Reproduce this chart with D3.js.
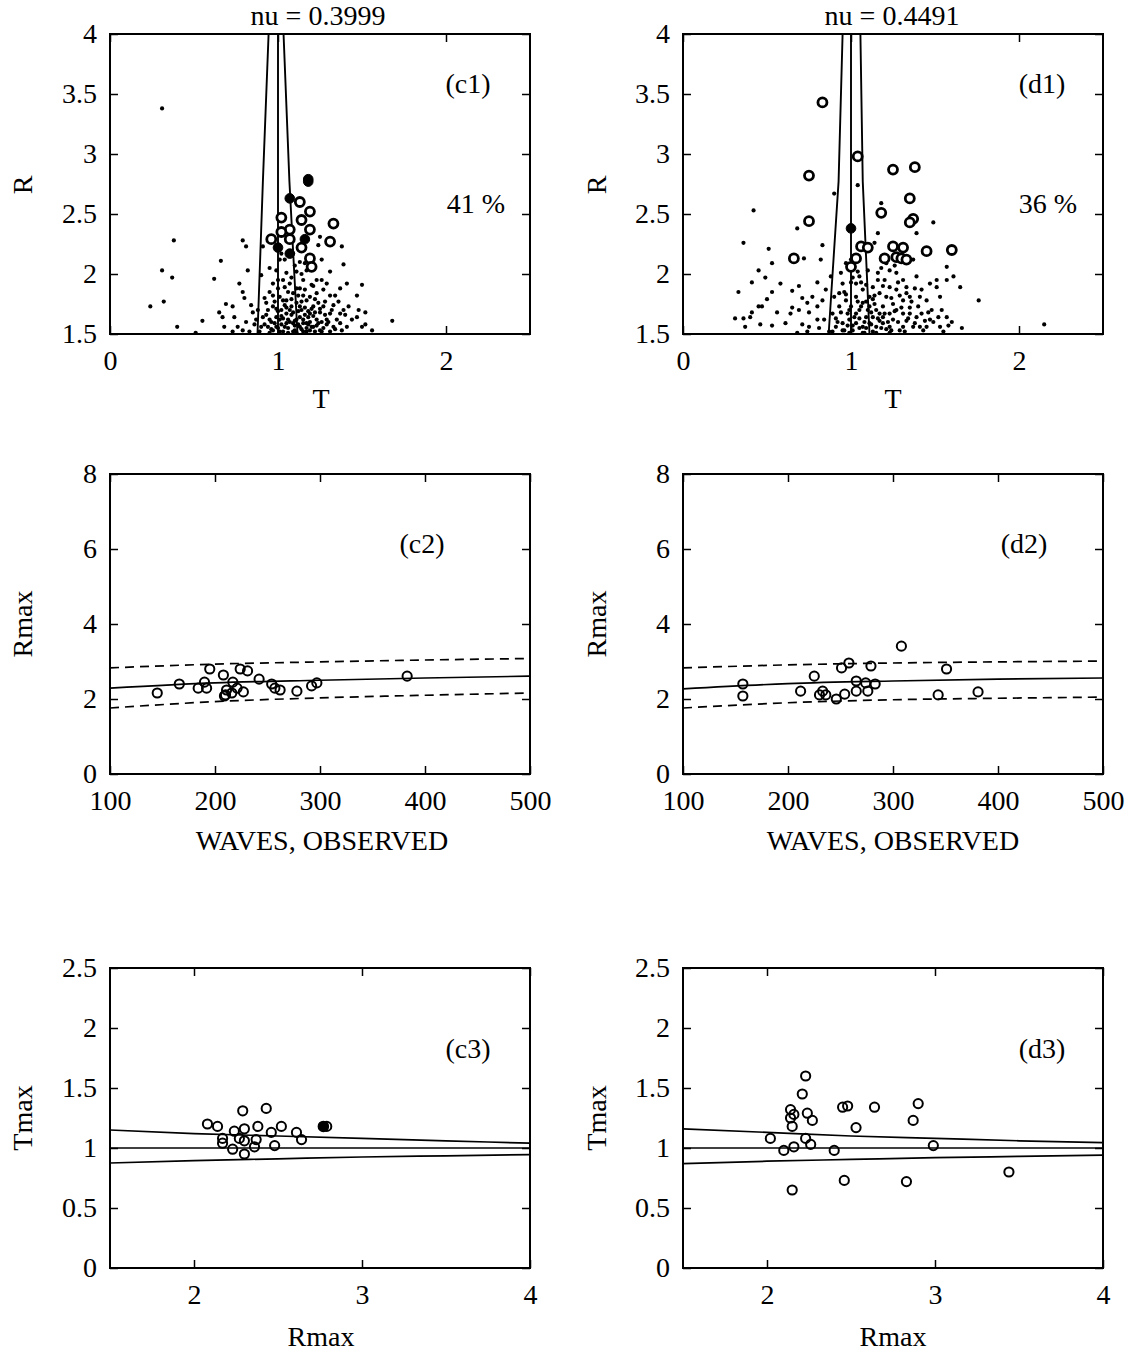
<!DOCTYPE html>
<html>
<head>
<meta charset="utf-8">
<script src="https://cdn.jsdelivr.net/npm/d3@7"></script>
<style>
body { margin: 0; background: #fff; }
</style>
</head>
<body>
<script>
(function () {
    'use strict';

    // ---- row 1: R against T, small dots + freak-wave circles ----
    var c1Dots = [
        [0.31,3.38],[0.38,2.28],[0.31,2.03],[0.37,1.97],[0.24,1.73],[0.32,1.77],[0.40,1.56],[0.51,1.51],
        [0.55,1.61],[0.62,1.96],[0.66,2.11],[0.79,2.28],[0.81,2.23],[0.82,2.03],[0.77,1.92],[0.79,1.85],
        [0.80,1.80],[0.65,1.68],[0.67,1.64],[0.69,1.75],[0.73,1.73],[0.68,1.56],[0.74,1.64],[0.76,1.56],
        [0.81,1.60],[0.84,1.74],[0.85,1.68],[1.68,1.61],[1.50,1.91],[1.47,1.82],[1.48,1.70],[1.52,1.68],
        [1.52,1.58],[1.56,1.53],[1.47,1.64],[1.41,1.92],[1.39,2.08],[1.38,2.23],[1.31,2.02],[1.26,2.12],
        [1.25,2.31],[1.24,2.24],[1.37,1.88],[1.34,1.82],[1.31,1.82],[1.42,1.73],[1.44,1.62],[1.41,1.56],
        [1.50,1.56],[1.23,1.95],[1.21,1.90],[1.15,1.95],[1.11,2.02],[1.13,2.10],[1.04,2.12],[1.03,1.95],
        [0.97,1.92],[0.95,1.85],[0.90,1.99],[0.91,2.23],[0.93,1.76],[0.87,1.62],[0.90,1.56],[0.97,1.73],
        [0.99,1.64],[1.01,1.81],[1.05,1.78],[1.07,1.70],[1.09,1.84],[1.13,1.73],[1.17,1.78],[1.19,1.67],
        [1.23,1.62],[1.27,1.73],[1.29,1.62],[1.33,1.56],[1.37,1.67],[1.05,1.59],[1.13,1.56],[1.21,1.56],
        [1.25,1.53],[0.97,1.53],[1.03,1.52],[1.09,1.52],[1.17,1.52],[1.31,1.52],[0.83,1.52],[0.73,1.52],
        [0.79,1.53],[1.05,1.67],[1.01,1.62],[0.95,1.62],[0.94,1.56],[1.11,1.62],[1.15,1.62],[1.17,1.59],
        [1.09,1.59],[0.99,1.56],[1.02,1.70],[1.04,1.89],[1.07,1.92],[1.13,1.88],[1.15,1.82],[1.19,1.81],
        [1.23,1.84],[1.27,1.87],[1.21,1.73],[1.25,1.68],[1.31,1.67],[1.33,1.74],[1.29,1.58],[1.37,1.59],
        [1.05,2.01],[0.99,2.03],[1.01,2.12],[1.02,2.17],[1.09,2.17],[1.17,2.03],[1.16,2.09],
        [0.92,1.58],[0.96,1.60],[1.00,1.55],[1.03,1.63],[1.06,1.55],[1.08,1.66],[1.10,1.57],[1.12,1.69],
        [1.14,1.54],[1.16,1.66],[1.18,1.58],[1.20,1.71],[1.22,1.52],[1.24,1.76],[1.26,1.60],[1.28,1.66],
        [1.00,1.69],[0.98,1.77],[1.04,1.74],[1.08,1.79],[1.11,1.76],[1.14,1.70],[1.18,1.64],[1.22,1.68],
        [0.93,1.66],[0.96,1.54],[1.02,1.58],[1.06,1.62],[1.10,1.53],[1.15,1.59],[1.19,1.53],[1.23,1.57],
        [1.27,1.55],[1.35,1.62],[1.39,1.70],[0.88,1.70],[0.86,1.58],[1.06,1.85],[1.11,1.88],[1.00,1.88],
        [0.89,1.52],[0.91,1.64],[0.94,1.70],[0.95,1.51],[0.98,1.59],[0.99,1.71],[1.01,1.52],[1.02,1.65],
        [1.03,1.78],[1.04,1.56],[1.05,1.72],[1.06,1.51],[1.07,1.60],[1.08,1.73],[1.09,1.68],[1.10,1.61],
        [1.11,1.51],[1.12,1.58],[1.13,1.64],[1.14,1.77],[1.15,1.52],[1.16,1.72],[1.17,1.55],[1.18,1.69],
        [1.19,1.60],[1.20,1.56],[1.21,1.65],[1.22,1.79],[1.24,1.59],[1.25,1.71],[1.26,1.52],[1.28,1.77],
        [1.30,1.60],[1.32,1.70],[1.34,1.54],[1.36,1.77],[1.38,1.53],[1.40,1.66],[0.97,1.82],[1.00,1.95],
        [1.08,1.97],[1.12,1.82],[1.16,1.87],[1.20,1.91],[1.26,1.95],[1.10,2.07],[1.14,2.00],[1.29,1.92],
        [0.92,1.80],[0.95,2.05]
    ];
    var c1Circles = [
        [1.13,2.60],[1.19,2.52],[1.02,2.47],[1.14,2.45],[1.33,2.42],[1.07,2.37],[1.02,2.35],
        [1.19,2.37],[0.96,2.29],[1.07,2.29],[1.31,2.27],[1.14,2.22],[1.19,2.13],[1.20,2.06]
    ];
    var c1Filled = [[1.18,2.77],[1.18,2.79],[1.07,2.63],[1.16,2.29],[1.00,2.22],[1.07,2.17]];
    var c1LeftLine = [[0.878,1.5],[0.91,2.77],[0.944,4]];
    var c1MidLine = [[1,1.5],[1,4]];
    var c1RightLine = [[1.116,1.5],[1.068,2.77],[1.033,4]];

    var d1Dots = [
        [0.42,2.53],[0.36,2.26],[0.51,2.21],[0.53,2.09],[0.45,2.03],[0.49,1.97],[0.41,1.93],[0.33,1.85],
        [0.31,1.63],[0.36,1.63],[0.40,1.64],[0.41,1.68],[0.45,1.73],[0.47,1.73],[0.50,1.79],[0.53,1.85],
        [0.58,1.92],[0.37,1.56],[0.46,1.58],[0.53,1.57],[0.56,1.68],[0.61,1.59],[0.65,1.86],[0.69,1.90],
        [0.68,2.38],[0.72,2.13],[0.83,2.24],[0.82,2.12],[0.80,1.93],[0.71,1.80],[0.65,1.72],[0.64,1.67],
        [0.69,1.70],[0.74,1.76],[0.75,1.68],[0.77,1.81],[0.80,1.73],[0.83,1.78],[0.85,1.87],[0.71,1.58],
        [0.75,1.56],[0.80,1.62],[0.84,1.62],[0.81,1.55],[0.68,1.51],[0.74,1.52],[0.90,2.67],[1.04,2.74],
        [1.18,2.59],[1.16,2.34],[1.14,2.26],[1.39,2.34],[1.49,2.43],[1.57,2.06],[1.61,1.98],[1.65,1.89],
        [1.76,1.78],[2.15,1.58],[1.66,1.55],[1.60,1.60],[1.57,1.64],[1.57,1.95],[1.51,1.95],[1.51,1.89],
        [1.53,1.81],[1.48,1.70],[1.54,1.70],[1.45,1.78],[1.42,1.87],[1.47,1.92],[1.47,1.62],[1.45,1.56],
        [1.53,1.56],[1.39,1.98],[1.37,2.12],[1.31,1.95],[1.27,2.01],[1.21,2.09],[1.23,2.03],[1.16,2.01],
        [1.16,1.95],[1.33,1.89],[1.38,1.88],[1.35,1.81],[1.31,1.78],[1.27,1.87],[1.23,1.89],[1.21,1.81],
        [1.17,1.84],[1.13,1.89],[1.11,1.81],[1.07,1.87],[1.03,1.92],[1.07,1.76],[1.11,1.73],[1.15,1.70],
        [1.19,1.73],[1.23,1.67],[1.27,1.70],[1.31,1.67],[1.35,1.67],[1.39,1.64],[1.42,1.67],[1.41,1.56],
        [1.37,1.56],[1.31,1.56],[1.23,1.56],[1.19,1.59],[1.15,1.56],[1.11,1.59],[1.07,1.56],[1.03,1.59],
        [0.99,1.62],[0.95,1.59],[0.91,1.56],[0.89,1.67],[0.93,1.73],[0.97,1.78],[0.93,1.84],[0.95,1.92],
        [0.94,2.01],[0.97,2.09],[1.00,2.12],[1.03,2.14],[0.88,1.98],[0.99,1.51],[1.07,1.51],[1.15,1.51],
        [1.23,1.51],[0.87,1.52],[1.03,1.67],[1.00,1.73],[1.09,1.64],[1.13,1.64],[1.19,1.64],[1.03,1.81],
        [1.04,2.02],
        [0.92,1.60],[0.96,1.53],[1.01,1.57],[1.05,1.63],[1.09,1.55],[1.12,1.68],[1.17,1.61],[1.21,1.54],
        [1.25,1.62],[1.29,1.53],[1.33,1.61],[1.05,1.70],[1.09,1.77],[1.13,1.79],[1.17,1.67],[1.25,1.75],
        [1.29,1.82],[0.98,1.67],[0.96,1.85],[1.01,1.97],[1.06,1.93],[1.20,1.95],[1.35,1.72],[1.44,1.61],
        [0.89,1.52],[0.91,1.63],[0.94,1.68],[0.95,1.53],[0.98,1.57],[0.99,1.70],[1.01,1.53],[1.02,1.64],
        [1.04,1.77],[1.05,1.55],[1.06,1.73],[1.08,1.51],[1.08,1.60],[1.10,1.70],[1.12,1.58],[1.13,1.52],
        [1.14,1.75],[1.16,1.63],[1.18,1.55],[1.20,1.67],[1.22,1.60],[1.24,1.53],[1.26,1.69],[1.28,1.60],
        [1.30,1.72],[1.32,1.52],[1.34,1.63],[1.36,1.77],[1.38,1.59],[1.40,1.73],[1.43,1.53],[1.46,1.68],
        [1.49,1.60],[1.52,1.64],[1.55,1.52],[1.58,1.57],[0.97,1.83],[1.00,1.93],[1.05,1.98],[1.09,1.91],
        [1.14,1.82],[1.19,1.90],[1.24,1.80],[1.28,1.93],[1.33,1.84],[1.41,1.81],[1.18,2.05],[1.26,2.07],
        [1.10,2.03],[0.90,1.81]
    ];
    var d1Circles = [
        [0.83,3.43],[1.04,2.98],[0.75,2.82],[1.25,2.87],[1.38,2.89],[1.35,2.63],[1.18,2.51],[1.37,2.46],
        [1.35,2.43],[0.75,2.44],[1.06,2.23],[1.10,2.22],[1.25,2.23],[1.31,2.22],[1.45,2.19],[1.60,2.20],
        [0.66,2.13],[1.03,2.13],[1.20,2.13],[1.27,2.14],[1.30,2.13],[1.33,2.12],[1.00,2.06]
    ];
    var d1Filled = [[1.00,2.38]];
    var d1LeftLine = [[0.867,1.5],[0.926,2.77],[0.95,4]];
    var d1MidLine = [[1,1.5],[1,4]];
    var d1RightLine = [[1.11,1.5],[1.07,2.77],[1.056,4]];

    // ---- row 2: Rmax against number of waves ----
    var waveN = [100, 200, 300, 400, 500];
    var c2Mean = [2.29, 2.43, 2.50, 2.56, 2.61];
    var c2Upper = [2.83, 2.93, 2.99, 3.04, 3.08];
    var c2Lower = [1.76, 1.93, 2.03, 2.10, 2.16];
    var d2Mean = [2.27, 2.41, 2.48, 2.53, 2.56];
    var d2Upper = [2.83, 2.91, 2.96, 2.99, 3.01];
    var d2Lower = [1.76, 1.90, 1.98, 2.02, 2.05];
    var c2Points = [
        [145,2.16],[166,2.40],[184,2.29],[190,2.45],[192,2.29],[195,2.80],[208,2.64],[209,2.08],
        [210,2.11],[211,2.24],[216,2.16],[217,2.45],[221,2.29],[224,2.80],[227,2.19],[231,2.75],
        [242,2.53],[254,2.40],[257,2.29],[262,2.24],[278,2.21],[292,2.35],[297,2.43],[383,2.61]
    ];
    var d2Points = [
        [157,2.40],[157,2.08],[212,2.21],[225,2.61],[230,2.11],[233,2.21],[236,2.11],[246,2.00],
        [251,2.83],[254,2.13],[258,2.96],[265,2.48],[265,2.21],[274,2.43],[276,2.21],[279,2.88],
        [283,2.40],[308,3.41],[343,2.11],[351,2.80],[381,2.19]
    ];

    // ---- row 3: Tmax against Rmax ----
    var rmaxGrid = [1.5, 2, 2.5, 3, 3.5, 4];
    var c3Upper = [1.15, 1.12, 1.10, 1.08, 1.06, 1.04];
    var c3Mid = [1, 1, 1, 1, 1, 1];
    var c3Lower = [0.875, 0.895, 0.91, 0.925, 0.935, 0.945];
    var d3Upper = [1.16, 1.13, 1.10, 1.08, 1.06, 1.045];
    var d3Mid = [1, 1, 1, 1, 1, 1];
    var d3Lower = [0.87, 0.89, 0.905, 0.92, 0.93, 0.94];
    var c3Points = [
        [2.29,1.31],[2.43,1.33],[2.08,1.20],[2.14,1.18],[2.24,1.14],[2.30,1.16],[2.38,1.18],[2.52,1.18],
        [2.46,1.13],[2.61,1.13],[2.17,1.08],[2.17,1.04],[2.27,1.08],[2.30,1.06],[2.37,1.07],[2.36,1.01],
        [2.48,1.02],[2.64,1.07],[2.23,0.99],[2.30,0.95],[2.79,1.18]
    ];
    var c3Filled = [[2.77,1.18]];
    var d3Points = [
        [2.23,1.60],[2.21,1.45],[2.14,1.32],[2.16,1.28],[2.14,1.25],[2.15,1.18],[2.24,1.29],[2.27,1.23],
        [2.45,1.34],[2.48,1.35],[2.64,1.34],[2.90,1.37],[2.87,1.23],[2.53,1.17],[2.02,1.08],[2.23,1.08],
        [2.26,1.03],[2.10,0.98],[2.16,1.01],[2.40,0.98],[2.99,1.02],[3.44,0.80],[2.46,0.73],[2.83,0.72],
        [2.15,0.65]
    ];

    var W = 420, H = 300;
    var FONT = '"Liberation Serif", "Times New Roman", serif';
    var FS = 28;

    var svg = d3.select('body')
        .append('svg')
        .attr('width', 1132)
        .attr('height', 1353)
        .style('font-family', FONT);

    function drawPanel(p) {
        var g = svg.append('g')
            .attr('transform', 'translate(' + p.left + ',' + p.top + ')');
        var x = d3.scaleLinear().domain(p.xDomain).range([0, W]);
        var y = d3.scaleLinear().domain(p.yDomain).range([H, 0]);
        var fmt = function (d) { return d; };

        g.append('g')
            .attr('transform', 'translate(0,' + H + ')')
            .call(d3.axisBottom(x).tickValues(p.xTicks).tickSizeInner(-8).tickSizeOuter(0)
                .tickPadding(16).tickFormat(fmt));
        g.append('g')
            .call(d3.axisLeft(y).tickValues(p.yTicks).tickSizeInner(-8).tickSizeOuter(0)
                .tickPadding(13).tickFormat(fmt));
        g.append('g')
            .call(d3.axisTop(x).tickValues(p.xTicks).tickSizeInner(-8).tickSizeOuter(0)
                .tickFormat(''));
        g.append('g')
            .attr('transform', 'translate(' + W + ',0)')
            .call(d3.axisRight(y).tickValues(p.yTicks).tickSizeInner(-8).tickSizeOuter(0)
                .tickFormat(''));

        g.selectAll('.domain').remove();
        g.selectAll('.tick line').attr('stroke', '#000').attr('stroke-width', 1.5);
        g.selectAll('.tick text')
            .attr('fill', '#000')
            .style('font-size', FS + 'px')
            .style('font-family', FONT);

        g.append('rect')
            .attr('width', W)
            .attr('height', H)
            .attr('fill', 'none')
            .attr('stroke', '#000')
            .attr('stroke-width', 2);

        return { g: g, x: x, y: y };
    }

    function drawLine(pn, pts, dashed) {
        var line = d3.line()
            .x(function (d) { return pn.x(d[0]); })
            .y(function (d) { return pn.y(d[1]); })
            .curve(d3.curveMonotoneX);
        pn.g.append('path')
            .datum(pts)
            .attr('d', line)
            .attr('fill', 'none')
            .attr('stroke', '#000')
            .attr('stroke-width', 1.7)
            .attr('stroke-dasharray', dashed ? '9,6' : null);
    }

    function drawLineY(pn, pts) {
        // lines running mostly vertically, given as [T, R]
        var line = d3.line()
            .x(function (d) { return pn.x(d[0]); })
            .y(function (d) { return pn.y(d[1]); });
        pn.g.append('path')
            .datum(pts)
            .attr('d', line)
            .attr('fill', 'none')
            .attr('stroke', '#000')
            .attr('stroke-width', 1.9);
    }

    function zip(xs, ys) {
        return xs.map(function (v, i) { return [v, ys[i]]; });
    }

    function drawDots(pn, pts) {
        pn.g.append('g').selectAll('circle')
            .data(pts)
            .enter()
            .append('circle')
            .attr('cx', function (d) { return pn.x(d[0]); })
            .attr('cy', function (d) { return pn.y(d[1]); })
            .attr('r', 2.1)
            .attr('fill', '#000');
    }

    function drawRings(pn, pts, r, sw, fill) {
        pn.g.append('g').selectAll('circle')
            .data(pts)
            .enter()
            .append('circle')
            .attr('cx', function (d) { return pn.x(d[0]); })
            .attr('cy', function (d) { return pn.y(d[1]); })
            .attr('r', r)
            .attr('fill', fill)
            .attr('stroke', '#000')
            .attr('stroke-width', sw);
    }

    function label(txt, x, y, rotate) {
        var t = svg.append('text')
            .attr('x', x)
            .attr('y', y)
            .attr('text-anchor', 'middle')
            .attr('dominant-baseline', 'central')
            .style('font-size', FS + 'px')
            .style('font-family', FONT)
            .text(txt);
        if (rotate) {
            t.attr('transform', 'rotate(-90,' + x + ',' + y + ')');
        }
        return t;
    }

    // row 1
    var row1 = { xDomain: [0, 2.5], yDomain: [1.5, 4], xTicks: [0, 1, 2], yTicks: [1.5, 2, 2.5, 3, 3.5, 4] };
    var c1 = drawPanel(Object.assign({ left: 110, top: 34 }, row1));
    drawDots(c1, c1Dots);
    drawLineY(c1, c1LeftLine);
    drawLineY(c1, c1MidLine);
    drawLineY(c1, c1RightLine);
    drawRings(c1, c1Circles, 4.5, 2.8, '#fff');
    drawRings(c1, c1Filled, 4.8, 1, '#000');

    var d1 = drawPanel(Object.assign({ left: 683, top: 34 }, row1));
    drawDots(d1, d1Dots);
    drawLineY(d1, d1LeftLine);
    drawLineY(d1, d1MidLine);
    drawLineY(d1, d1RightLine);
    drawRings(d1, d1Circles, 4.5, 2.8, '#fff');
    drawRings(d1, d1Filled, 4.8, 1, '#000');

    // row 2
    var row2 = { xDomain: [100, 500], yDomain: [0, 8], xTicks: [100, 200, 300, 400, 500], yTicks: [0, 2, 4, 6, 8] };
    var c2 = drawPanel(Object.assign({ left: 110, top: 474 }, row2));
    drawLine(c2, zip(waveN, c2Upper), true);
    drawLine(c2, zip(waveN, c2Mean), false);
    drawLine(c2, zip(waveN, c2Lower), true);
    drawRings(c2, c2Points, 4.6, 2, 'none');

    var d2 = drawPanel(Object.assign({ left: 683, top: 474 }, row2));
    drawLine(d2, zip(waveN, d2Upper), true);
    drawLine(d2, zip(waveN, d2Mean), false);
    drawLine(d2, zip(waveN, d2Lower), true);
    drawRings(d2, d2Points, 4.6, 2, 'none');

    // row 3
    var row3 = { xDomain: [1.5, 4], yDomain: [0, 2.5], xTicks: [2, 3, 4], yTicks: [0, 0.5, 1, 1.5, 2, 2.5] };
    var c3 = drawPanel(Object.assign({ left: 110, top: 968 }, row3));
    drawLine(c3, zip(rmaxGrid, c3Upper), false);
    drawLine(c3, zip(rmaxGrid, c3Mid), false);
    drawLine(c3, zip(rmaxGrid, c3Lower), false);
    drawRings(c3, c3Points, 4.6, 2, 'none');
    drawRings(c3, c3Filled, 5, 1.5, '#000');

    var d3p = drawPanel(Object.assign({ left: 683, top: 968 }, row3));
    drawLine(d3p, zip(rmaxGrid, d3Upper), false);
    drawLine(d3p, zip(rmaxGrid, d3Mid), false);
    drawLine(d3p, zip(rmaxGrid, d3Lower), false);
    drawRings(d3p, d3Points, 4.6, 2, 'none');

    // titles, tags and axis names
    label('nu = 0.3999', 318, 15);
    label('nu = 0.4491', 892, 15);
    label('(c1)', 468, 83);
    label('41 %', 476, 203);
    label('(d1)', 1042, 83);
    label('36 %', 1048, 203);
    label('(c2)', 422, 543);
    label('(d2)', 1024, 543);
    label('(c3)', 468, 1048);
    label('(d3)', 1042, 1048);

    label('T', 321, 398);
    label('T', 893, 398);
    label('R', 22, 185, true);
    label('R', 596, 185, true);
    label('WAVES, OBSERVED', 322, 840);
    label('WAVES, OBSERVED', 893, 840);
    label('Rmax', 22, 624, true);
    label('Rmax', 596, 624, true);
    label('Tmax', 22, 1118, true);
    label('Tmax', 596, 1118, true);
    label('Rmax', 321, 1336);
    label('Rmax', 893, 1336);
}());
</script>
</body>
</html>
